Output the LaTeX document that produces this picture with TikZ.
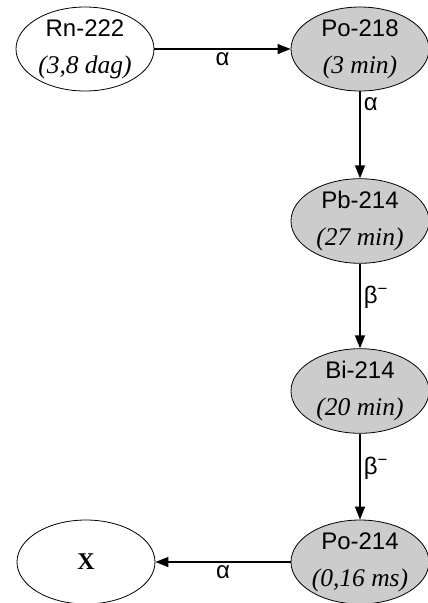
\documentclass[tikz,border=0pt]{standalone}
\usepackage{fontspec}
\setmainfont{Liberation Serif}
\setsansfont{Liberation Sans}
\usetikzlibrary{arrows.meta,positioning,shapes.geometric}
\definecolor{rnGrey}{HTML}{cccccc}
\tikzset{
  >={Triangle[length=13pt,width=10pt]},
  nuc/.style={ellipse, draw=black, line width=0.8pt, fill=white,
              minimum width=138pt, minimum height=84pt, inner sep=0pt,
              align=center, font=\fontsize{24}{37}\selectfont},
  hot/.style={nuc, fill=rnGrey},
  decay/.style={->, draw=black, line width=1.5pt},
  lbl/.style={font=\sffamily\fontsize{24}{28}\selectfont, inner sep=3pt},
}
\newcommand{\bminus}{β\textsuperscript{\char"2212}}
\newcommand{\halflife}[1]{{\fontsize{25.5}{37}\selectfont\itshape #1}}
\begin{document}
\begin{tikzpicture}[x=1pt,y=-1pt]
  \useasboundingbox (0,0) rectangle (428,603);
  % the chain
  \node[nuc] (rn) at (85,49) {\textsf{Rn-222}\\\halflife{(3,8 dag)}};
  \node[hot] (po218) at (360,49) {\textsf{Po-218}\\\halflife{(3 min)}};
  \node[hot] (pb214) at (360,221) {\textsf{Pb-214}\\\halflife{(27 min)}};
  \node[hot] (bi214) at (360,391) {\textsf{Bi-214}\\\halflife{(20 min)}};
  \node[hot] (po214) at (360,562) {\textsf{Po-214}\\\halflife{(0,16 ms)}};
  \node[nuc] (x) at (86,562) {\textbf{X}};
  % decays
  \draw[decay] (rn.east) -- node[lbl,below] {α} (po218.west);
  \draw[decay] (po218.south) -- node[lbl,right,pos=0.15] {α} (pb214.north);
  \draw[decay] (pb214.south) -- node[lbl,right,pos=0.4] {\bminus} (bi214.north);
  \draw[decay] (bi214.south) -- node[lbl,right,pos=0.4] {\bminus} (po214.north);
  \draw[decay] (po214.west) -- node[lbl,below] {α} (x.east);
\end{tikzpicture}
\end{document}
